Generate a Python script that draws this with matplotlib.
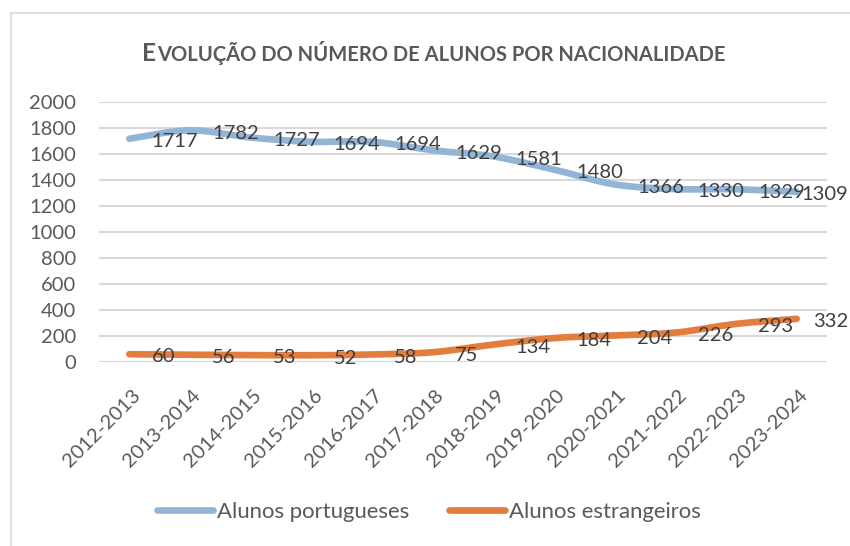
import matplotlib
matplotlib.use("Agg")
import matplotlib.pyplot as plt
import matplotlib.transforms as mtransforms
from matplotlib.path import Path
from matplotlib.patches import PathPatch
from matplotlib.lines import Line2D

plt.rcParams['font.family'] = ['Lato', 'DejaVu Sans']

anos = ["2012-2013", "2013-2014", "2014-2015", "2015-2016", "2016-2017", "2017-2018",
        "2018-2019", "2019-2020", "2020-2021", "2021-2022", "2022-2023", "2023-2024"]
portugueses = [1717, 1782, 1727, 1694, 1694, 1629, 1581, 1480, 1366, 1330, 1329, 1309]
estrangeiros = [60, 56, 53, 52, 58, 75, 134, 184, 204, 226, 293, 332]
legendas = ["Alunos portugueses", "Alunos estrangeiros"]

cor_pt = "#92B5D6"
cor_est = "#E27D3E"
cinza = "#595959"
fs = 14.5
lw = 4.8
W, H = 850, 546


def linha_suave(ax, ys, cor):
    # curva tipo "linha suavizada" do Excel (bezier entre os pontos)
    n = len(ys)
    pts = [(i, ys[i]) for i in range(n)]
    verts = [pts[0]]
    codes = [Path.MOVETO]
    for i in range(n - 1):
        p0 = pts[max(i - 1, 0)]
        p1 = pts[i]
        p2 = pts[i + 1]
        p3 = pts[min(i + 2, n - 1)]
        c1 = (p1[0] + (p2[0] - p0[0]) / 6, p1[1] + (p2[1] - p0[1]) / 6)
        c2 = (p2[0] - (p3[0] - p1[0]) / 6, p2[1] - (p3[1] - p1[1]) / 6)
        verts += [c1, c2, p2]
        codes += [Path.CURVE4] * 3
    patch = PathPatch(Path(verts, codes), facecolor="none", edgecolor=cor,
                      lw=lw, capstyle="round", joinstyle="round", zorder=3)
    ax.add_patch(patch)


fig = plt.figure(figsize=(W / 100, H / 100), dpi=100)
ax = fig.add_axes([99 / W, 1 - 362 / H, (827 - 99) / W, (362 - 102) / H])

linha_suave(ax, portugueses, cor_pt)
linha_suave(ax, estrangeiros, cor_est)

ax.set_xlim(-0.5, len(anos) - 0.5)
ax.set_ylim(0, 2000)
ax.set_yticks(range(0, 2001, 200))
ax.yaxis.grid(True, color="#D9D9D9", lw=1.5)
ax.set_axisbelow(True)
for s in ax.spines.values():
    s.set_visible(False)
ax.tick_params(axis="y", length=0, pad=16.5, labelsize=fs, labelcolor=cinza)
ax.set_xticks(range(len(anos)))
ax.set_xticklabels(anos, rotation=45, ha="right", va="center", rotation_mode="anchor")
ax.tick_params(axis="x", length=0, pad=22, labelsize=fs, labelcolor=cinza)
desloc = mtransforms.ScaledTranslation(8 / 100, 0, fig.dpi_scale_trans)
for lb in ax.get_xticklabels():
    lb.set_transform(lb.get_transform() + desloc)

# rótulos de dados à direita de cada ponto
rotulos = []
for serie in (portugueses, estrangeiros):
    for i, v in enumerate(serie):
        t = ax.annotate(str(v), (i, v), xytext=(16, -2), textcoords="offset points",
                        ha="left", va="center", fontsize=fs, color="#3F3F3F", zorder=4)
        rotulos.append(t)

# título em versaletes
t1 = fig.text(0, 0, "E", fontsize=17, fontweight="bold", color=cinza,
              ha="left", va="baseline")
t2 = fig.text(0, 0, "VOLUÇÃO DO NÚMERO DE ALUNOS POR NACIONALIDADE", fontsize=14,
              fontweight="bold", color=cinza, ha="left", va="baseline")

fig.canvas.draw()
r = fig.canvas.get_renderer()
k = 586 / (t1.get_window_extent(r).width + t2.get_window_extent(r).width)
t1.set_fontsize(17 * k)
t2.set_fontsize(14 * k)
w1 = t1.get_window_extent(r).width
w2 = t2.get_window_extent(r).width
x0 = 433 - (w1 + w2) / 2
t1.set_position((x0 / W, 1 - 61 / H))
t2.set_position(((x0 + w1 + 1) / W, 1 - 61 / H))

# o Excel encosta os rótulos que saem do gráfico à margem direita
for t in rotulos:
    bb = t.get_window_extent(r)
    if bb.x1 > 848:
        ox, oy = t.xyann
        t.xyann = (ox - (bb.x1 - 848) * 72 / 100, oy)

# legenda: tamanho ajustado à largura do texto da referência (~193 px)
tmp = fig.text(0, 0, legendas[0], fontsize=fs)
fs_leg = fs * 193 / tmp.get_window_extent(r).width
tmp.remove()
px = fs_leg * 100 / 72
leg_handles = [Line2D([], [], color=cor_pt, lw=lw, solid_capstyle="round"),
               Line2D([], [], color=cor_est, lw=lw, solid_capstyle="round")]
fig.legend(leg_handles, legendas, loc="center left",
           bbox_to_anchor=(157 / W, 1 - 512 / H), ncol=2, frameon=False, fontsize=fs_leg,
           labelcolor=cinza, handlelength=56 / px, handletextpad=4 / px,
           columnspacing=40 / px, borderpad=0, borderaxespad=0)

# borda do gráfico (esquerda e topo)
fig.add_artist(Line2D([11 / W, 11 / W], [0, 1 - 13 / H], color="#D9D9D9", lw=1.2))
fig.add_artist(Line2D([11 / W, 1], [1 - 13 / H, 1 - 13 / H], color="#D9D9D9", lw=1.2))

fig.savefig("out.png", dpi=100)
